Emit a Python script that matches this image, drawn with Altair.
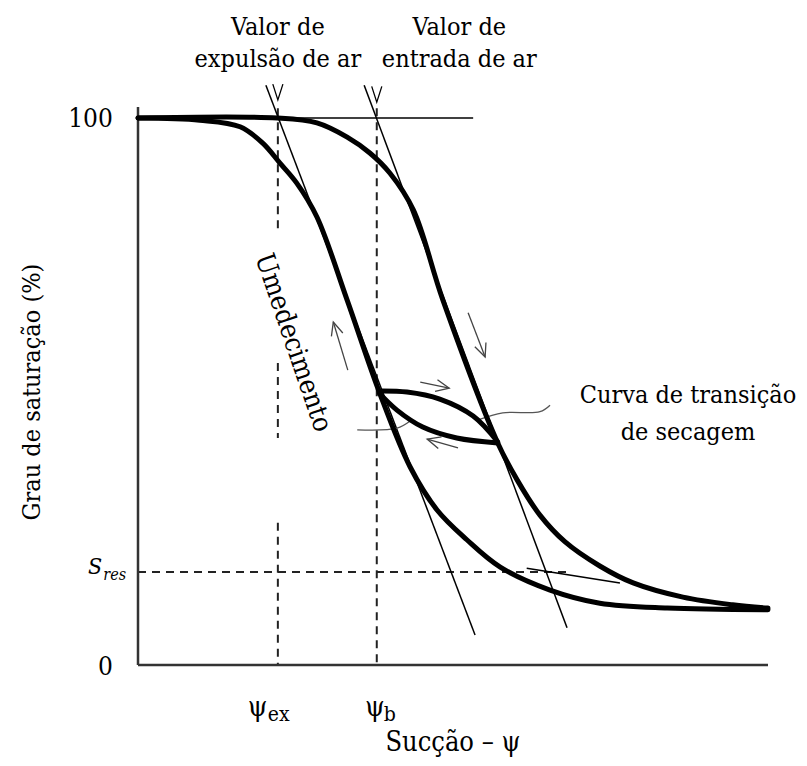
import math
import altair as alt
import pandas as pd

# ---------------- values ----------------
# x: relative suction (0-100 along the axis), y: degree of saturation (%)
wet_x = [0, 9.8, 16.2, 19.8, 22.5, 25.2, 28.4, 33.2, 38.3, 43.2, 47.5, 52.2, 57.5, 65.4, 73.3, 84.0, 100]
wet_y = [100, 99.6, 98.4, 95.4, 91.8, 88.1, 81.9, 66.7, 49.9, 36.2, 28.3, 22.9, 17.9, 13.7, 11.3, 10.4, 10.1]

dry_x = [0, 22.1, 28.4, 33.2, 36.8, 40.0, 43.7, 48.4, 57.1, 60.2, 63.8, 67.8, 73.3, 78.6, 86.5, 94.4, 100]
dry_y = [100, 100, 99.1, 96.5, 93.6, 89.9, 83.2, 66.7, 40.6, 33.8, 27.4, 22.5, 18.1, 15.0, 12.4, 11.0, 10.4]

scan_up_x = [38.3, 42.7, 47.9, 53.2, 57.1]
scan_up_y = [50.1, 49.9, 48.6, 45.5, 40.8]
scan_dn_x = [38.3, 41.1, 45.2, 50.6, 57.1]
scan_dn_y = [49.7, 46.6, 43.5, 41.5, 40.6]

psi_ex = 22.2
psi_b = 37.9
s_res = 17.0

# thin construction lines (x, y, x2, y2)
tan_wet = [20.3, 106.0, 53.5, 5.5]
tan_dry = [35.9, 106.0, 68.1, 6.8]
tan_res = [61.7, 17.7, 76.5, 15.0]
line_100 = [0, 100, 53.2, 100]

# dashed segments of the psi_ex guide (y from, y to)
psi_ex_segments = [(101.8, 79.2), (55.2, 41.5), (26.0, 0)]

# small direction arrows: shaft (x, y) -> tip (x2, y2)
arrows = [
    (33.3, 53.9, 31.0, 62.7),   # wetting
    (52.4, 64.4, 55.1, 56.3),   # drying
    (44.8, 51.7, 49.4, 50.6),   # scanning (upper)
    (50.8, 39.7, 45.9, 41.3),   # scanning (lower)
]
# downward markers at the top of the guides
markers_x = [22.2, 37.9]
markers_y = [103.3, 102.9]

# leader lines from the label to the scanning curves
leader1_x = [54.0, 57.9, 63.8, 65.4]
leader1_y = [44.8, 46.1, 46.3, 47.5]
leader2_x = [34.8, 41.1, 43.2]
leader2_y = [43.0, 43.3, 44.6]

# ---------------- chart ----------------
W, H = 630, 547
PXX, PXY = W / 100, H / 100
FONT = "DejaVu Serif Condensed, DejaVu Serif"

xs = alt.Scale(domain=[0, 100], nice=False, zero=False)
ys = alt.Scale(domain=[0, 100], nice=False, zero=False)


def X(f="x"):
    return alt.X(f"{f}:Q", scale=xs, axis=None)


def Y(f="y"):
    return alt.Y(f"{f}:Q", scale=ys, axis=None)


def curve_df(name, xv, yv):
    return pd.DataFrame({"curve": name, "i": range(len(xv)), "x": xv, "y": yv})


curves = pd.concat([
    curve_df("wet", wet_x, wet_y),
    curve_df("dry", dry_x, dry_y),
    curve_df("up", scan_up_x, scan_up_y),
    curve_df("dn", scan_dn_x, scan_dn_y),
])

thick = alt.Chart(curves).mark_line(
    interpolate="catmull-rom", strokeWidth=5, color="black", strokeCap="round"
).encode(x=X(), y=Y(), detail="curve:N", order="i:Q")

leaders = pd.concat([
    curve_df("l1", leader1_x, leader1_y),
    curve_df("l2", leader2_x, leader2_y),
])
leader_layer = alt.Chart(leaders).mark_line(
    interpolate="catmull-rom", strokeWidth=1.3, color="#555"
).encode(x=X(), y=Y(), detail="curve:N", order="i:Q")


def seg_df(rows):
    return pd.DataFrame(rows, columns=["x", "y", "x2", "y2"])


def rule_layer(df, **kw):
    return alt.Chart(df).mark_rule(**kw).encode(
        x=X(), y=Y(), x2="x2:Q", y2="y2:Q"
    )


axes = rule_layer(seg_df([[0, 0, 100, 0], [0, 0, 0, 102.0]]), color="#333", strokeWidth=2.5)
thin = rule_layer(seg_df([line_100, tan_wet, tan_dry, tan_res]), color="black", strokeWidth=1.5)

dash_rows = [[psi_ex, a, psi_ex, b] for a, b in psi_ex_segments]
dash_rows.append([psi_b, 101.8, psi_b, 0])
dash_rows.append([0, s_res, 68.1, s_res])
dashed = rule_layer(seg_df(dash_rows), color="#222", strokeWidth=2, strokeDash=[8, 6])

shafts = rule_layer(seg_df(arrows), color="#444", strokeWidth=1.3)


def angle_of(x0, y0, x1, y1):
    dx = (x1 - x0) * PXX
    dy = -(y1 - y0) * PXY
    return math.degrees(math.atan2(dx, -dy)) % 360


heads = pd.DataFrame({
    "x": [a[2] for a in arrows],
    "y": [a[3] for a in arrows],
    "angle": [angle_of(*a) for a in arrows],
})
head_layer = alt.Chart(heads).mark_point(
    shape="M-0.45,1L0,0L0.45,1", filled=False, size=700, color="#444", strokeWidth=1.3, opacity=1
).encode(x=X(), y=Y(), angle=alt.Angle("angle:Q", scale=None))

marks = pd.DataFrame({"x": markers_x, "y": markers_y})
marker_layer = alt.Chart(marks).mark_point(
    shape="M-0.32,1L0,0L0.32,1", filled=False, size=1000, color="black", strokeWidth=1.3, opacity=1, angle=180
).encode(x=X(), y=Y())


def text_layer(rows, size, align="center", baseline="alphabetic", style="normal", angle=0):
    df = pd.DataFrame(rows, columns=["t", "x", "y"])
    return alt.Chart(df).mark_text(
        font=FONT, fontSize=size, align=align, baseline=baseline,
        fontStyle=style, angle=angle, color="black"
    ).encode(x=X(), y=Y(), text="t:N")


texts = [
    text_layer([["Valor de", 22.2, 115.2], ["expulsão de ar", 22.2, 109.3],
                ["Valor de", 51.0, 115.2], ["entrada de ar", 51.0, 109.3]], 25),
    text_layer([["Curva de transição", 87.3, 47.9], ["de secagem", 87.3, 41.1]], 25),
    text_layer([["Sucção – ψ", 50.0, -15.7]], 27),
    text_layer([["Umedecimento", 24.6, 58.9]], 27, baseline="middle", angle=71),
    text_layer([["Grau de saturação (%)", -16.8, 49.9]], 25, baseline="middle", angle=270),
    text_layer([["100", -4.0, 98.4], ["0", -4.0, -1.8]], 26, align="right"),
    text_layer([["S", -6.8, 16.6]], 23, style="italic"),
    text_layer([["res", -5.5, 15.5]], 16, align="left", style="italic"),
    text_layer([["ψ", 19.0, -9.3], ["ψ", 37.6, -9.3]], 28),
    text_layer([["ex", 20.6, -10.2], ["b", 39.0, -10.2]], 21, align="left"),
]

chart = alt.layer(
    dashed, axes, thin, leader_layer, shafts, head_layer, marker_layer, thick, *texts
).properties(
    width=W, height=H,
    autosize=alt.AutoSizeParams(type="none"),
    padding={"left": 130, "top": 110, "right": 31, "bottom": 93},
).configure_view(stroke=None)

chart.save("out.html", embed_options={"renderer": "svg", "actions": False})
